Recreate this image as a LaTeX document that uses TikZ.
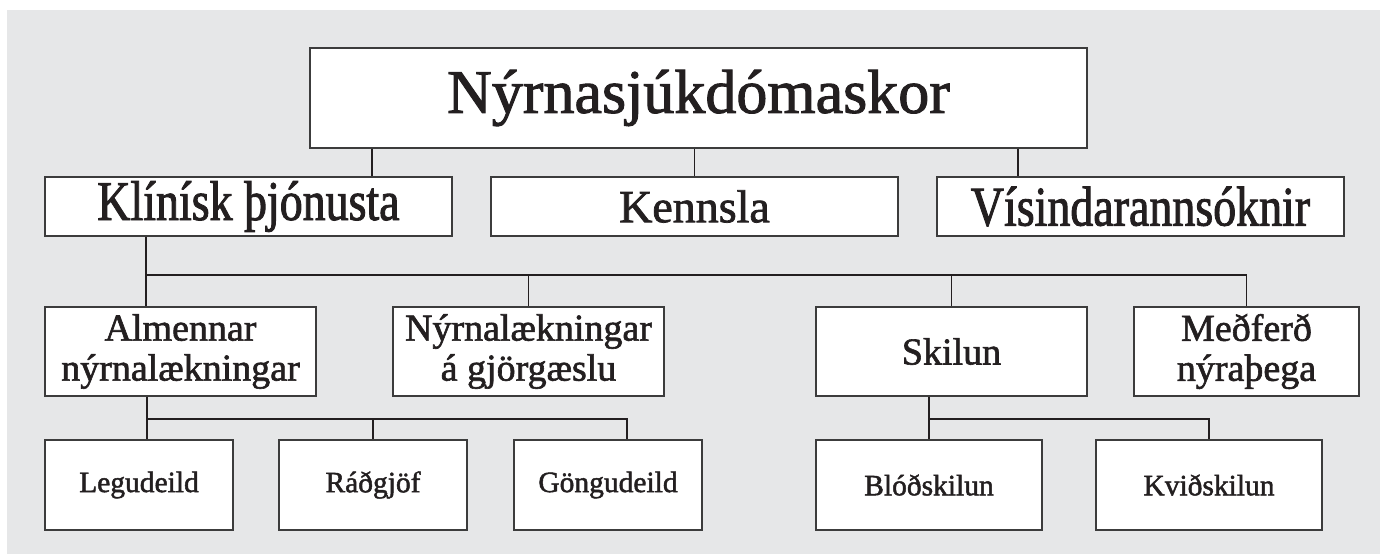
\documentclass[tikz,border=0pt]{standalone}
\usepackage{fontspec}
\setmainfont[RawFeature={embolden=1.6}]{Liberation Serif}
\newfontfamily\condensedfont[FakeStretch=0.82,RawFeature={embolden=1.6}]{Liberation Serif}
\usetikzlibrary{positioning,calc}
\definecolor{Panel}{HTML}{E6E7E8}
\definecolor{Edge}{HTML}{3C3C3C}
\definecolor{Ink}{HTML}{231F20}
\tikzset{
  unit/.style={draw=Edge,fill=white,line width=1.4pt,inner sep=0pt,align=center,text=Ink},
  head/.style={unit,minimum width=777pt,minimum height=100pt,font=\fontsize{62}{64}\selectfont},
  dept/.style={unit,minimum width=407pt,minimum height=59pt,font=\fontsize{46}{48}\selectfont},
  widedept/.style={dept,font=\condensedfont\fontsize{56}{58}\selectfont},
  sect/.style={unit,minimum width=271pt,minimum height=89pt,font=\fontsize{38}{40}\selectfont},
  ward/.style={unit,minimum width=188pt,minimum height=90pt,font=\fontsize{29.5}{31}\selectfont},
  link/.style={draw=Ink,line width=1.1pt}
}

\begin{document}
\begin{tikzpicture}[x=1pt,y=-1pt]
    \useasboundingbox (0,0) rectangle (1380,555);
    \fill[Panel] (7,10) rectangle (1380,554);
    % boxes
    \node[head] (skor) at (698.5,98) {Nýrnasjúkdómaskor};
    \node[widedept] (klin) at (248.5,206.5) {Klínísk þjónusta};
    \node[dept] (kenn) at (694.5,206.5) {Kennsla};
    \node[widedept] (visi) at (1140.5,206.5) {Vísindarannsóknir};
    \node[sect] (alm) at (180.5,351.5) {Almennar\\nýrnalækningar};
    \node[sect] (gjor) at (528.5,351.5) {Nýrnalækningar\\á gjörgæslu};
    \node[sect] (skil) at (951.5,351.5) {Skilun};
    \node[sect,minimum width=225pt] (medf) at (1246.5,351.5) {Meðferð\\nýraþega};
    \node[ward] (legu) at (139,485) {Legudeild};
    \node[ward] (radg) at (373,485) {Ráðgjöf};
    \node[ward] (gong) at (608,485) {Göngudeild};
    \node[ward,minimum width=226pt] (blod) at (929,485) {Blóðskilun};
    \node[ward,minimum width=226pt] (kvid) at (1209,485) {Kviðskilun};
    % connectors
    \draw[link] (skor.south -| 372,0) -- (klin.north -| 372,0);
    \draw[link] (skor.south -| kenn.north) -- (kenn.north);
    \draw[link] (skor.south -| 1018,0) -- (visi.north -| 1018,0);
    \coordinate (bus1) at (146,275);
    \draw[link] (klin.south -| bus1) -- (alm.north -| bus1);
    \draw[link] (bus1) -| (medf.north);
    \foreach \n in {gjor,skil}
      \draw[link] (bus1 -| \n.north) -- (\n.north);
    \coordinate (bus2) at (147,419);
    \draw[link] (alm.south -| bus2) -- (legu.north -| bus2);
    \draw[link] (bus2) -- (bus2 -| 627,0) -- (gong.north -| 627,0);
    \draw[link] (bus2 -| radg.north) -- (radg.north);
    \coordinate (bus3) at (929,419);
    \draw[link] (skil.south -| bus3) -- (blod.north);
    \draw[link] (bus3) -| (kvid.north);
\end{tikzpicture}
\end{document}
